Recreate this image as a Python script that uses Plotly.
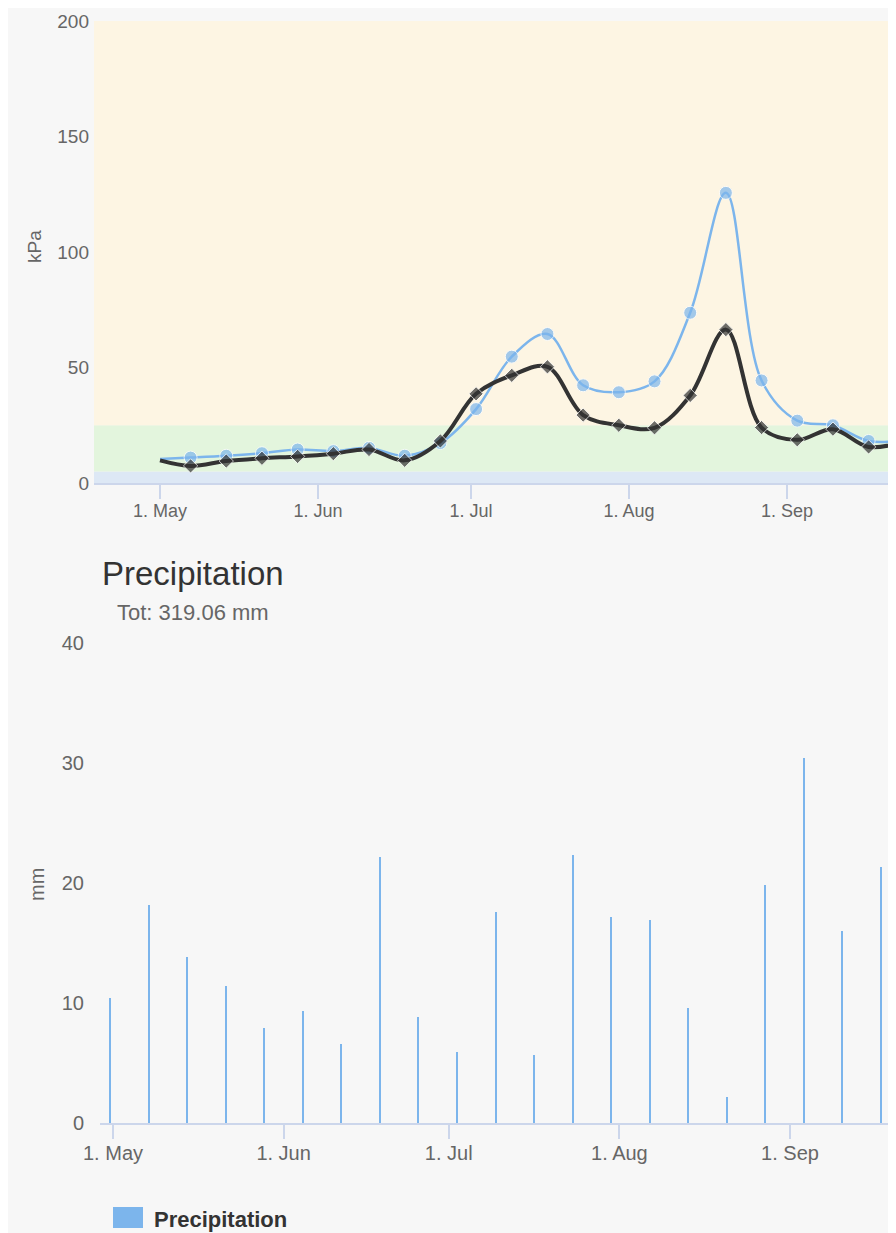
import pandas as pd
import plotly.graph_objects as go

# ---------------- data ----------------
tension_dates = ["2022-05-01", "2022-05-07", "2022-05-14", "2022-05-21", "2022-05-28",
                 "2022-06-04", "2022-06-11", "2022-06-18", "2022-06-25", "2022-07-02",
                 "2022-07-09", "2022-07-16", "2022-07-23", "2022-07-30", "2022-08-06",
                 "2022-08-13", "2022-08-20", "2022-08-27", "2022-09-03", "2022-09-10",
                 "2022-09-17", "2022-09-24"]
tension_blue = [10.4, 11.0, 11.8, 12.9, 14.5, 13.8, 15.2, 11.8, 17.3, 32.0, 54.7,
                64.5, 42.3, 39.3, 44.0, 73.7, 125.6, 44.4, 27.0, 25.0, 18.2, 18.5]
tension_black = [9.8, 7.4, 9.5, 10.7, 11.5, 12.7, 14.5, 9.8, 18.2, 38.6, 46.6,
                 50.3, 29.4, 25.0, 23.9, 37.9, 66.4, 24.0, 18.7, 23.3, 15.6, 18.0]

band_limits = [0, 5, 25, 200]          # kPa thresholds of the coloured bands

precip_dates = ["2022-04-30 12:00", "2022-05-07 12:00", "2022-05-14 12:00", "2022-05-21 12:00",
                "2022-05-28 12:00", "2022-06-04 12:00", "2022-06-11 12:00", "2022-06-18 12:00",
                "2022-06-25 12:00", "2022-07-02 12:00", "2022-07-09 12:00", "2022-07-16 12:00",
                "2022-07-23 12:00", "2022-07-30 12:00", "2022-08-06 12:00", "2022-08-13 12:00",
                "2022-08-20 12:00", "2022-08-27 12:00", "2022-09-03 12:00", "2022-09-10 12:00",
                "2022-09-17 12:00"]
precip_mm = [10.4, 18.2, 13.8, 11.4, 7.9, 9.3, 6.6, 22.2, 8.8, 5.9, 17.6,
             5.7, 22.3, 17.2, 16.9, 9.6, 2.2, 19.8, 30.4, 16.0, 21.3]

precip_title = "Precipitation"
precip_subtitle = "Tot: 319.06 mm"

# ---------------- layout helpers ----------------
W, H = 896, 1233
OFF = 8                      # page body margin offsets the figure by 8 px
FONT = "Liberation Sans, Arial, Helvetica, sans-serif"
BLUE = "#7cb5ec"
DARK = "#333333"
GREY = "#666666"
AXC = "#ccd6eb"


def px(x):
    return (x - OFF) / W


def py(y):
    return 1 - (y - OFF) / H


RIGHT = W + OFF              # screen x of the paper's right edge

may1 = pd.Timestamp("2022-05-01")
# top chart: 1 May at x=160, 5.098 px/day, plot from x=94 to the right edge
top_ppd = 5.098
top_range = [may1 + pd.Timedelta(days=(94 - 160) / top_ppd),
             may1 + pd.Timedelta(days=(RIGHT - 160) / top_ppd)]
# bottom chart: 1 May at x=113, 5.504 px/day, plot from x=100 to the right edge
bot_ppd = 5.504
bot_range = [may1 + pd.Timedelta(days=(100 - 113) / bot_ppd),
             may1 + pd.Timedelta(days=(RIGHT - 113) / bot_ppd)]
bar_px = 2.0
bar_width_ms = bar_px / bot_ppd * 86400000

fig = go.Figure()

fig.add_trace(go.Scatter(
    x=tension_dates, y=tension_blue, mode="lines+markers",
    line=dict(color=BLUE, width=2.5, shape="spline", smoothing=1.0),
    marker=dict(symbol="circle", size=[0] + [13] * (len(tension_blue) - 1), color=BLUE),
    xaxis="x", yaxis="y", showlegend=False))
fig.add_trace(go.Scatter(
    x=tension_dates, y=tension_black, mode="lines+markers",
    line=dict(color=DARK, width=4, shape="spline", smoothing=1.0),
    marker=dict(symbol="diamond", size=[0] + [11] * (len(tension_black) - 1), color=DARK),
    xaxis="x", yaxis="y", showlegend=False))

fig.add_trace(go.Bar(
    x=precip_dates, y=precip_mm, width=bar_width_ms,
    marker=dict(color=BLUE, line=dict(width=0)),
    xaxis="x2", yaxis="y2", showlegend=False))

band_colors = ["#dde8f5", "#e3f5dd", "#fdf5e3"]
shapes = []
for i, c in enumerate(band_colors):
    shapes.append(dict(type="rect", xref="x domain", yref="y", x0=0, x1=1,
                       y0=band_limits[i], y1=band_limits[i + 1],
                       fillcolor=c, line=dict(width=0), layer="below"))
# legend symbol
shapes.append(dict(type="rect", xref="paper", yref="paper",
                   x0=px(113), x1=px(143), y0=py(1228), y1=py(1207),
                   fillcolor=BLUE, line=dict(width=0)))

annotations = [
    dict(text="kPa", x=px(35), y=py(247), xref="paper", yref="paper", showarrow=False,
         textangle=-90, font=dict(family=FONT, size=19, color=GREY), xanchor="center", yanchor="middle"),
    dict(text="mm", x=px(37), y=py(885), xref="paper", yref="paper", showarrow=False,
         textangle=-90, font=dict(family=FONT, size=20, color=GREY), xanchor="center", yanchor="middle"),
    dict(text=precip_title, x=px(192.5), y=py(573.6), xref="paper", yref="paper", showarrow=False,
         font=dict(family=FONT, size=33, color=DARK), xanchor="center", yanchor="middle"),
    dict(text=precip_subtitle, x=px(192.5), y=py(612.4), xref="paper", yref="paper", showarrow=False,
         font=dict(family=FONT, size=22, color=GREY), xanchor="center", yanchor="middle"),
    dict(text="<b>Precipitation</b>", x=px(152), y=py(1219), xref="paper", yref="paper", showarrow=False,
         font=dict(family=FONT, size=22, color=DARK), xanchor="left", yanchor="middle"),
]

xcommon = dict(type="date", showgrid=False, zeroline=False, showline=True, linecolor=AXC,
               linewidth=1.5, ticks="outside", ticklen=14, tickcolor=AXC, tickwidth=1.5,
               dtick="M1", tick0="2022-05-01", tickformat="%-d. %b", automargin=False,
               ticklabelstandoff=-3)
ycommon = dict(showgrid=False, zeroline=False, showline=False, ticks="", automargin=False)

fig.update_layout(
    width=W, height=H, margin=dict(l=0, r=0, t=0, b=0), autosize=False,
    paper_bgcolor="#f7f7f7", plot_bgcolor="#f7f7f7",
    font=dict(family=FONT, color=GREY),
    bargap=0,
    xaxis=dict(xcommon, domain=[px(94), 1], anchor="y", range=top_range,
               tickfont=dict(family=FONT, size=18, color=GREY)),
    yaxis=dict(ycommon, domain=[py(483), py(21)], anchor="x", range=[0, 200], dtick=50,
               tickfont=dict(family=FONT, size=19, color=GREY), ticklabelstandoff=4),
    xaxis2=dict(xcommon, domain=[px(100), 1], anchor="y2", range=bot_range,
                tickfont=dict(family=FONT, size=20, color=GREY)),
    yaxis2=dict(ycommon, domain=[py(1123), py(643)], anchor="x2", range=[0, 40], dtick=10,
                tickfont=dict(family=FONT, size=20, color=GREY), ticklabelstandoff=15),
    shapes=shapes, annotations=annotations,
)

fig.write_html("out.html")
